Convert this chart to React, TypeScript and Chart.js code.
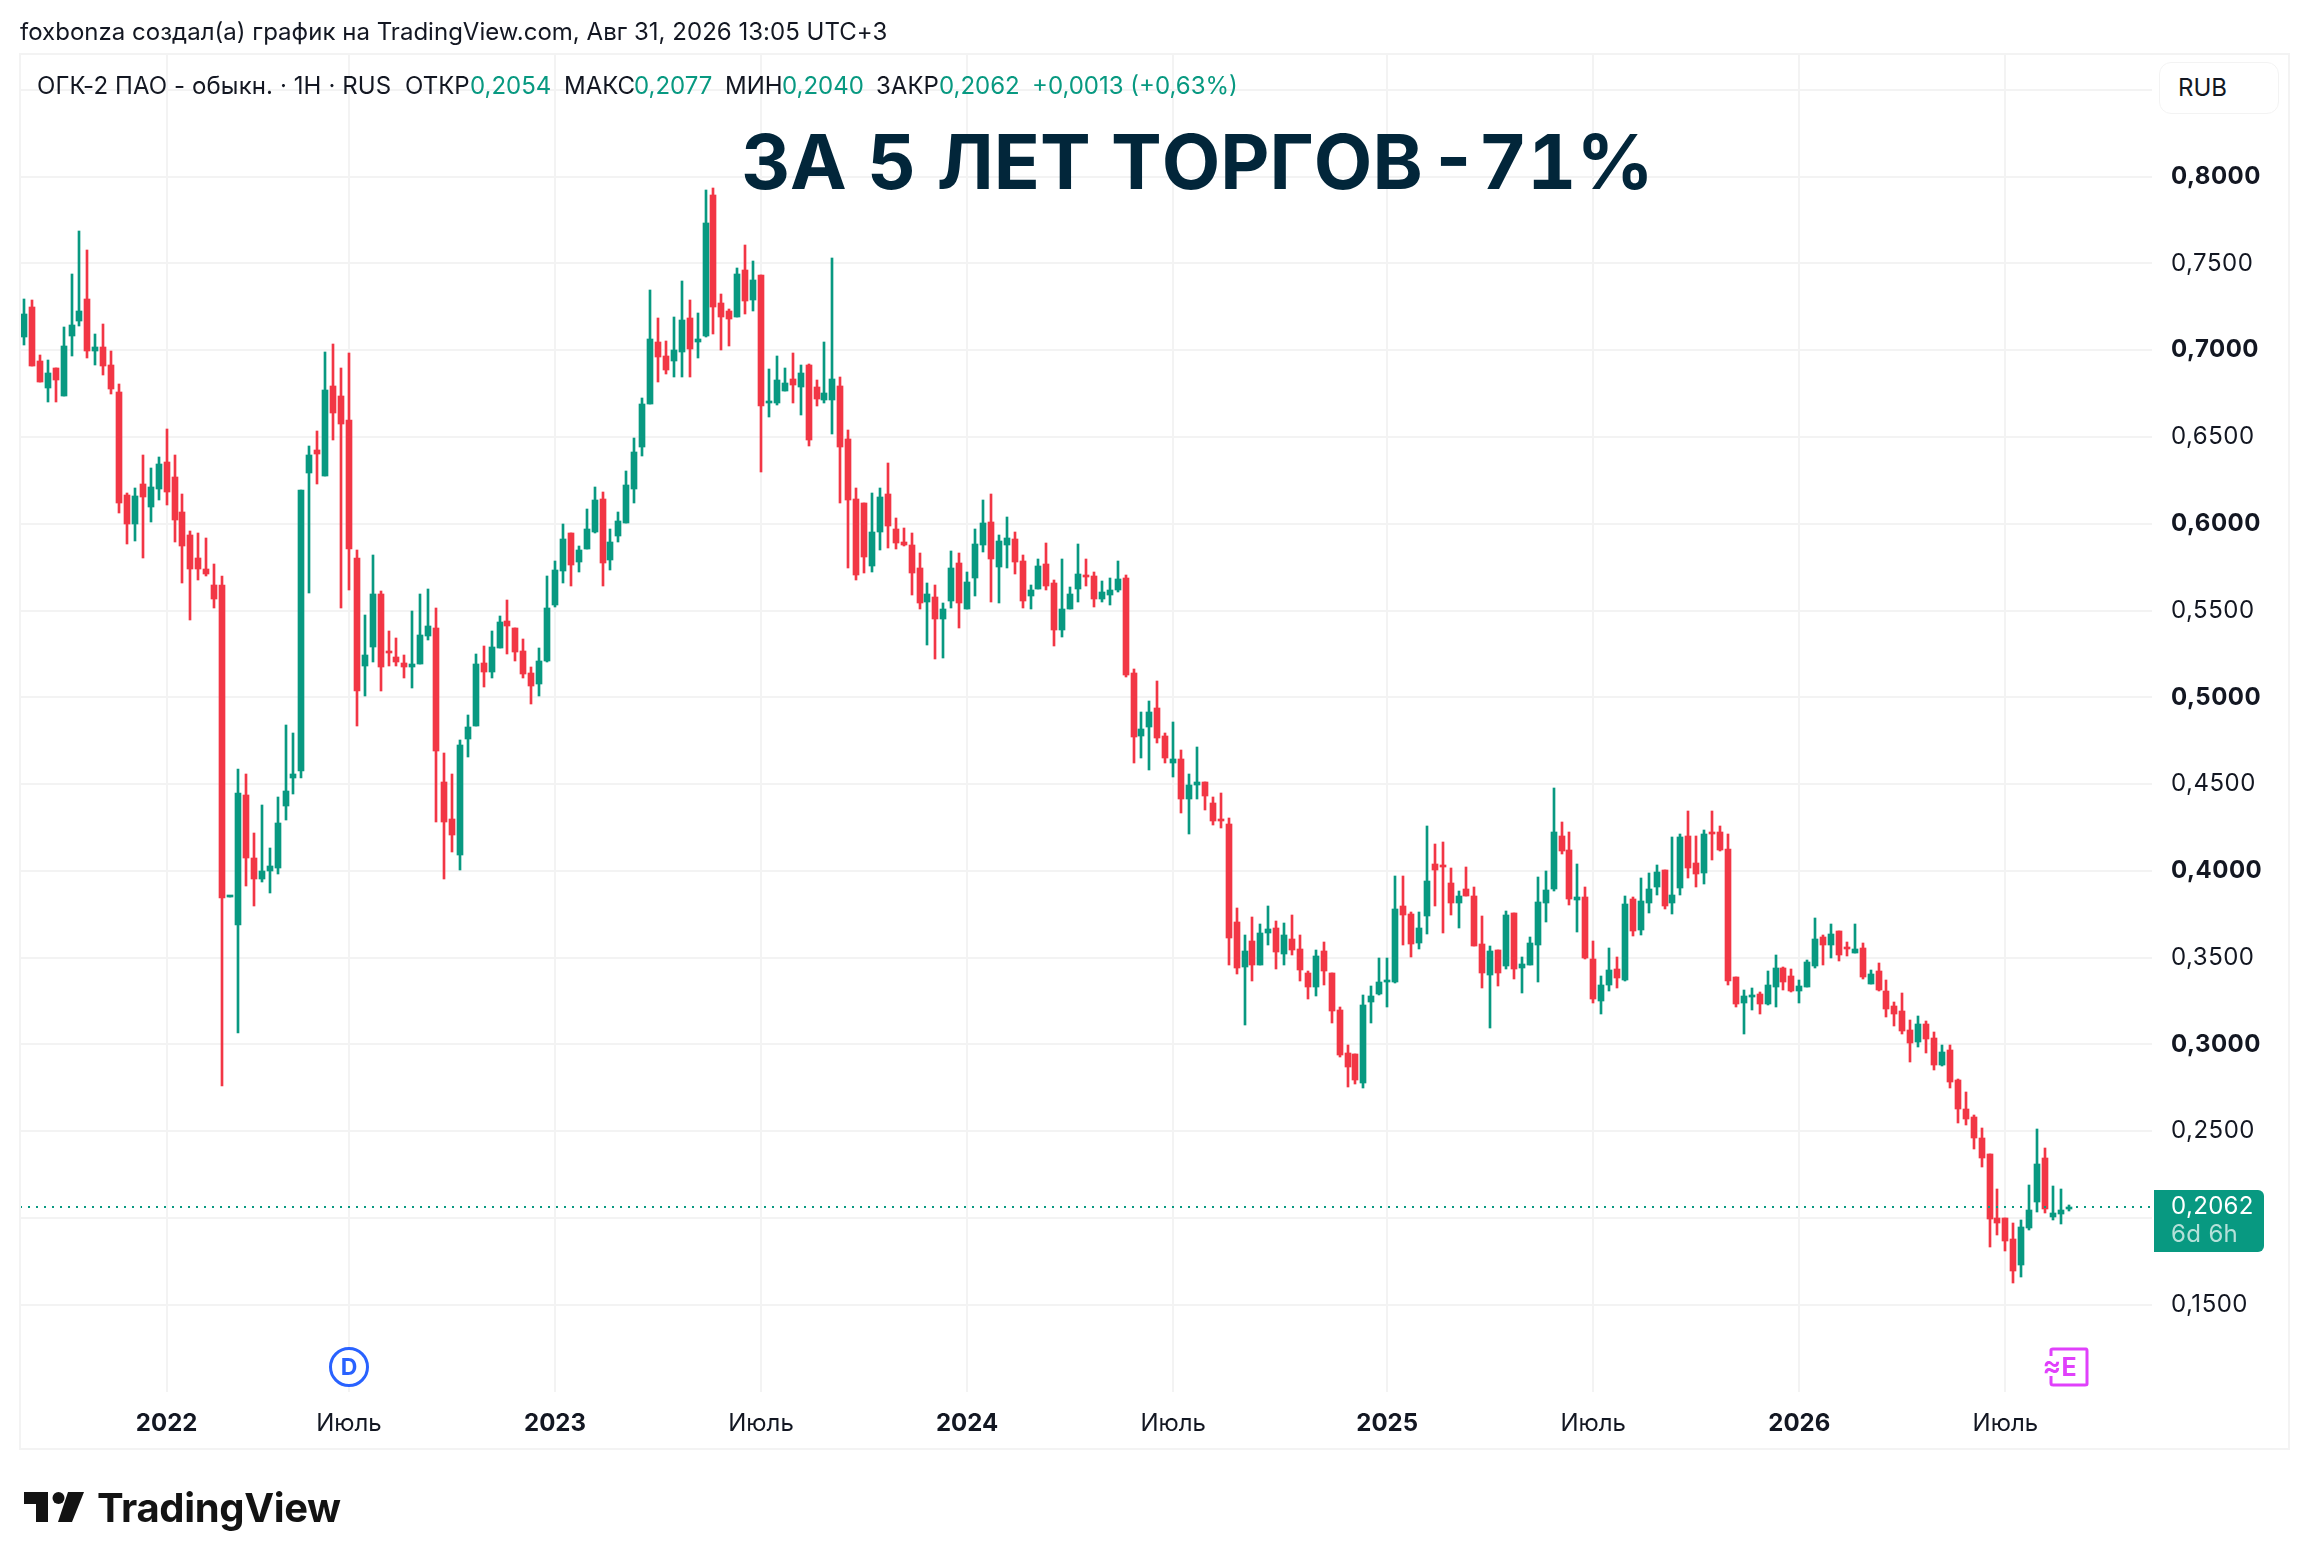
import React, { useEffect, useRef } from "react";
import { Chart, registerables } from "chart.js";

Chart.register(...registerables);

const opens = [
  0.7074,0.7251,0.6937,0.6785,0.6898,0.6736,0.7085,0.7166,0.7297,0.6993,
  0.7018,0.6916,0.6760,0.6168,0.5998,0.6228,0.6094,0.6203,0.6355,0.6270,
  0.6069,0.5935,0.5804,0.5741,0.5649,0.5649,0.3852,0.3688,0.4439,0.4076,
  0.3956,0.3998,0.4019,0.4372,0.4538,0.4573,0.6295,0.6425,0.6274,0.6796,
  0.6736,0.6598,0.5804,0.5183,0.5289,0.5596,0.5261,0.5233,0.5198,0.5173,
  0.5194,0.5356,0.5399,0.4513,0.4298,0.4093,0.4761,0.4834,0.5199,0.5145,
  0.5287,0.5439,0.5400,0.5267,0.5141,0.5077,0.5209,0.5534,0.5730,0.5948,
  0.5781,0.5857,0.5954,0.6143,0.5793,0.5931,0.6007,0.6203,0.6440,0.6693,
  0.7047,0.6967,0.6940,0.6991,0.7187,0.7045,0.7084,0.7895,0.7273,0.7226,
  0.7193,0.7463,0.7292,0.7434,0.6699,0.6697,0.6767,0.6835,0.6790,0.6915,
  0.6787,0.6715,0.6715,0.6794,0.6489,0.6143,0.6121,0.5758,0.5950,0.6172,
  0.5969,0.5896,0.5877,0.5745,0.5550,0.5578,0.5449,0.5557,0.5773,0.5510,
  0.5689,0.5879,0.6011,0.5750,0.5879,0.5912,0.5785,0.5585,0.5625,0.5769,
  0.5658,0.5390,0.5510,0.5625,0.5705,0.5698,0.5564,0.5592,0.5616,0.5686,
  0.5141,0.4779,0.4830,0.4939,0.4776,0.4623,0.4645,0.4416,0.4496,0.4513,
  0.4391,0.4294,0.4271,0.3706,0.3447,0.3596,0.3459,0.3643,0.3671,0.3523,
  0.3607,0.3549,0.3412,0.3332,0.3539,0.3412,0.3199,0.2951,0.2945,0.2780,
  0.3247,0.3291,0.3362,0.3362,0.3798,0.3754,0.3587,0.3742,0.4040,0.4034,
  0.3931,0.3812,0.3896,0.3856,0.3579,0.3402,0.3545,0.3454,0.3758,0.3443,
  0.3460,0.3575,0.3812,0.3898,0.4201,0.4121,0.3835,0.3850,0.3493,0.3253,
  0.3345,0.3435,0.3374,0.3838,0.3662,0.3812,0.3909,0.4006,0.3817,0.3904,
  0.4201,0.4046,0.3990,0.4224,0.4224,0.4127,0.3389,0.3241,0.3276,0.3291,
  0.3233,0.3333,0.3440,0.3394,0.3309,0.3332,0.3450,0.3619,0.3574,0.3653,
  0.3553,0.3528,0.3555,0.3350,0.3423,0.3307,0.3221,0.3192,0.3083,0.3013,
  0.3117,0.3037,0.2881,0.2967,0.2796,0.2627,0.2581,0.2460,0.2368,0.1999,
  0.1999,0.1878,0.1730,0.1942,0.2090,0.2345,0.2005,0.2024,0.2054,
];

const highs = [
  0.7297,0.7290,0.6972,0.6944,0.6898,0.7134,0.7438,0.7688,0.7579,0.7092,
  0.7152,0.6997,0.6806,0.6178,0.6207,0.6397,0.6323,0.6386,0.6545,0.6397,
  0.6171,0.5960,0.5945,0.5917,0.5769,0.5699,0.3857,0.4587,0.4559,0.4217,
  0.4379,0.4132,0.4425,0.4841,0.4795,0.6196,0.6450,0.6535,0.6990,0.7036,
  0.6898,0.6983,0.5850,0.5476,0.5822,0.5614,0.5381,0.5342,0.5243,0.5497,
  0.5596,0.5624,0.5515,0.4679,0.4559,0.4754,0.4898,0.5249,0.5295,0.5382,
  0.5468,0.5561,0.5400,0.5337,0.5174,0.5285,0.5699,0.5785,0.5999,0.5948,
  0.5872,0.6086,0.6211,0.6182,0.5970,0.6067,0.6304,0.6495,0.6726,0.7347,
  0.7187,0.7053,0.7191,0.7399,0.7290,0.7216,0.7924,0.7936,0.7325,0.7238,
  0.7475,0.7607,0.7514,0.7434,0.6892,0.6967,0.6899,0.6985,0.6915,0.6921,
  0.6829,0.7047,0.7532,0.6845,0.6541,0.6207,0.6121,0.6178,0.6207,0.6351,
  0.6032,0.5976,0.5948,0.5832,0.5658,0.5646,0.5543,0.5844,0.5832,0.5722,
  0.5969,0.6138,0.6171,0.5936,0.6039,0.5952,0.5821,0.5646,0.5797,0.5889,
  0.5677,0.5797,0.5635,0.5884,0.5797,0.5722,0.5670,0.5686,0.5785,0.5705,
  0.5162,0.4915,0.4979,0.5094,0.4795,0.4859,0.4696,0.4558,0.4713,0.4513,
  0.4426,0.4449,0.4303,0.3786,0.3631,0.3734,0.3694,0.3798,0.3711,0.3699,
  0.3746,0.3631,0.3424,0.3544,0.3591,0.3412,0.3216,0.2997,0.2945,0.3285,
  0.3337,0.3498,0.3498,0.3971,0.3971,0.3763,0.3763,0.4259,0.4155,0.4167,
  0.4017,0.3884,0.4023,0.3908,0.3740,0.3568,0.3545,0.3769,0.3758,0.3504,
  0.3619,0.3965,0.4000,0.4478,0.4282,0.4224,0.4040,0.3908,0.3596,0.3395,
  0.3556,0.3504,0.3856,0.3850,0.3959,0.3988,0.4034,0.4006,0.4196,0.4213,
  0.4345,0.4201,0.4236,0.4345,0.4259,0.4213,0.3389,0.3314,0.3326,0.3302,
  0.3424,0.3516,0.3446,0.3434,0.3371,0.3486,0.3728,0.3630,0.3693,0.3653,
  0.3590,0.3693,0.3584,0.3428,0.3469,0.3371,0.3244,0.3296,0.3140,0.3163,
  0.3135,0.3071,0.2996,0.2996,0.2800,0.2725,0.2593,0.2518,0.2368,0.2166,
  0.1999,0.1970,0.1988,0.2189,0.2512,0.2403,0.2184,0.2166,0.2077,
];

const lows = [
  0.7032,0.6909,0.6820,0.6700,0.6704,0.6736,0.6965,0.7138,0.6958,0.6916,
  0.6856,0.6750,0.6065,0.5882,0.5900,0.5801,0.6013,0.6140,0.6108,0.5893,
  0.5656,0.5444,0.5674,0.5702,0.5512,0.2763,0.3852,0.3063,0.3910,0.3800,
  0.3935,0.3871,0.3984,0.4291,0.4443,0.4538,0.5600,0.6228,0.6274,0.6482,
  0.5512,0.5621,0.4834,0.5007,0.5201,0.5039,0.5183,0.5183,0.5109,0.5053,
  0.5194,0.5328,0.4280,0.3956,0.4111,0.4007,0.4656,0.4834,0.5061,0.5114,
  0.5287,0.5252,0.5211,0.5114,0.4964,0.5009,0.5201,0.5518,0.5660,0.5643,
  0.5724,0.5857,0.5948,0.5643,0.5736,0.5896,0.6007,0.6117,0.6392,0.6693,
  0.6818,0.6866,0.6847,0.6847,0.6847,0.6958,0.7078,0.7094,0.7004,0.7026,
  0.7189,0.7211,0.7228,0.6300,0.6613,0.6685,0.6767,0.6699,0.6629,0.6450,
  0.6680,0.6699,0.6520,0.6117,0.5748,0.5678,0.5719,0.5724,0.5851,0.5863,
  0.5856,0.5872,0.5590,0.5510,0.5301,0.5221,0.5225,0.5517,0.5400,0.5510,
  0.5583,0.5835,0.5550,0.5541,0.5748,0.5708,0.5517,0.5510,0.5625,0.5618,
  0.5298,0.5350,0.5510,0.5550,0.5644,0.5522,0.5550,0.5534,0.5609,0.5120,
  0.4623,0.4652,0.4579,0.4739,0.4619,0.4543,0.4336,0.4214,0.4416,0.4348,
  0.4266,0.4249,0.3459,0.3407,0.3109,0.3363,0.3459,0.3574,0.3436,0.3459,
  0.3518,0.3363,0.3259,0.3280,0.3343,0.3126,0.2930,0.2757,0.2769,0.2751,
  0.3126,0.3285,0.3218,0.3356,0.3575,0.3506,0.3552,0.3639,0.3800,0.3644,
  0.3748,0.3673,0.3858,0.3569,0.3327,0.3097,0.3339,0.3437,0.3379,0.3299,
  0.3460,0.3362,0.3708,0.3886,0.4100,0.3806,0.3650,0.3495,0.3241,0.3178,
  0.3310,0.3327,0.3368,0.3627,0.3633,0.3760,0.3863,0.3783,0.3754,0.3863,
  0.3961,0.3909,0.3927,0.4065,0.4117,0.3345,0.3218,0.3062,0.3201,0.3178,
  0.3228,0.3218,0.3315,0.3302,0.3240,0.3332,0.3442,0.3459,0.3499,0.3482,
  0.3511,0.3528,0.3378,0.3350,0.3309,0.3159,0.3108,0.3062,0.2900,0.2987,
  0.2952,0.2854,0.2877,0.2750,0.2549,0.2537,0.2399,0.2295,0.1834,0.1903,
  0.1811,0.1627,0.1661,0.1932,0.2036,0.2030,0.1990,0.1967,0.2040,
];

const closes = [
  0.7208,0.6909,0.6820,0.6870,0.6831,0.7025,0.7145,0.7226,0.6993,0.7018,
  0.6912,0.6775,0.6122,0.5998,0.6161,0.6154,0.6214,0.6344,0.6182,0.6020,
  0.5871,0.5737,0.5737,0.5709,0.5564,0.3846,0.3857,0.4450,0.4072,0.3952,
  0.3998,0.4030,0.4277,0.4460,0.4559,0.6196,0.6397,0.6401,0.6771,0.6640,
  0.6577,0.5857,0.5035,0.5243,0.5596,0.5173,0.5254,0.5201,0.5176,0.5190,
  0.5360,0.5413,0.4693,0.4284,0.4206,0.4725,0.4829,0.5192,0.5145,0.5289,
  0.5433,0.5413,0.5262,0.5135,0.5067,0.5209,0.5516,0.5734,0.5913,0.5765,
  0.5849,0.5970,0.6137,0.5777,0.5894,0.6016,0.6224,0.6413,0.6691,0.7065,
  0.6962,0.6888,0.7002,0.7174,0.7010,0.7065,0.7734,0.7251,0.7189,0.7183,
  0.7440,0.7286,0.7405,0.6680,0.6707,0.6829,0.6812,0.6802,0.6870,0.6485,
  0.6722,0.6755,0.6835,0.6444,0.6139,0.5707,0.5810,0.5952,0.6154,0.5989,
  0.5891,0.5877,0.5719,0.5541,0.5595,0.5449,0.5508,0.5745,0.5541,0.5665,
  0.5884,0.6004,0.5795,0.5901,0.5917,0.5781,0.5557,0.5618,0.5757,0.5644,
  0.5390,0.5508,0.5595,0.5710,0.5696,0.5564,0.5607,0.5618,0.5682,0.5131,
  0.4774,0.4816,0.4915,0.4767,0.4652,0.4645,0.4416,0.4494,0.4513,0.4433,
  0.4289,0.4285,0.3614,0.3443,0.3539,0.3459,0.3643,0.3664,0.3534,0.3631,
  0.3546,0.3431,0.3332,0.3509,0.3425,0.3195,0.2941,0.2872,0.2797,0.3228,
  0.3279,0.3360,0.3372,0.3781,0.3748,0.3581,0.3671,0.3942,0.4007,0.4025,
  0.3812,0.3856,0.3858,0.3569,0.3414,0.3539,0.3414,0.3746,0.3437,0.3464,
  0.3585,0.3821,0.3890,0.4224,0.4117,0.3840,0.3850,0.3500,0.3264,0.3343,
  0.3429,0.3385,0.3810,0.3656,0.3827,0.3896,0.3994,0.3800,0.3861,0.4196,
  0.4019,0.3984,0.4213,0.4215,0.4123,0.3368,0.3230,0.3279,0.3285,0.3235,
  0.3343,0.3441,0.3361,0.3307,0.3336,0.3474,0.3607,0.3574,0.3636,0.3517,
  0.3547,0.3547,0.3388,0.3405,0.3313,0.3206,0.3177,0.3077,0.3010,0.3117,
  0.3033,0.2881,0.2956,0.2785,0.2629,0.2572,0.2462,0.2347,0.1995,0.1972,
  0.1869,0.1696,0.1947,0.2045,0.2310,0.2049,0.2028,0.2045,0.2062,
];

const blankSlots = 10;
const timeTickSlots = [18, 41, 67, 93, 119, 145, 172, 198, 224, 250];
const timeTickLabels = ["2022", "Июль", "2023", "Июль", "2024", "Июль", "2025", "Июль", "2026", "Июль"];
const boldTimeLabels = ["2022", "2023", "2024", "2025", "2026"];
const priceTicks = [0.85, 0.8, 0.75, 0.7, 0.65, 0.6, 0.55, 0.5, 0.45, 0.4, 0.35, 0.3, 0.25, 0.2, 0.15];
const hiddenPriceLabels = [0.85, 0.2];
const boldPriceLabels = [0.8, 0.7, 0.6, 0.5, 0.4, 0.3];

const categories = [...opens.map((_, i) => `#${i + 1}`), ...Array.from({ length: blankSlots }, (_, i) => `+${i + 1}`)];
const lastClose = closes[closes.length - 1];

const UP = "#089981";
const DOWN = "#F23645";
const GRID = "#F3F3F3";
const INK = "#131722";
const FONT = "Inter, 'Noto Sans', sans-serif";

const candleColors = opens.map((o, i) => (closes[i] >= o ? UP : DOWN));
const fmt = (v: number) => v.toFixed(4).replace(".", ",");

const snapBars = {
  id: "snapBars",
  afterDatasetsUpdate(chart: any) {
    chart.data.datasets.forEach((_: any, d: number) => {
      chart.getDatasetMeta(d).data.forEach((bar: any) => {
        bar.x = Math.round(bar.x);
        bar.y = Math.round(bar.y);
        bar.base = Math.round(bar.base);
      });
    });
  },
};

// The price labels sit on a layer drawn after the candles, so only they get the extra tracking.
const priceLabelSpacing = {
  id: "priceLabelSpacing",
  afterDatasetsDraw(chart: any) {
    chart.ctx.letterSpacing = "0.5px";
  },
  afterDraw(chart: any) {
    chart.ctx.letterSpacing = "0px";
  },
};

const lastPriceLine = {
  id: "lastPriceLine",
  afterDatasetsDraw(chart: any) {
    const { ctx, chartArea, scales } = chart;
    const y = Math.round(scales.y.getPixelForValue(lastClose));
    ctx.save();
    ctx.strokeStyle = UP;
    ctx.lineWidth = 2;
    ctx.setLineDash([2, 6]);
    ctx.beginPath();
    ctx.moveTo(chartArea.left, y);
    ctx.lineTo(chartArea.right, y);
    ctx.stroke();
    ctx.restore();
  },
};

function abs(left: number, top: number, extra: React.CSSProperties = {}): React.CSSProperties {
  return { position: "absolute", left, top, whiteSpace: "nowrap", ...extra };
}

const legendParts: [string, number, string, number][] = [
  ["ОГК-2 ПАО - обыкн. · 1Н · RUS", 37, INK, 0.1],
  ["ОТКР", 405, INK, 0],
  ["0,2054", 470, UP, 0],
  ["МАКС", 564, INK, 0],
  ["0,2077", 634, UP, 0],
  ["МИН", 725, INK, 0],
  ["0,2040", 782, UP, 0],
  ["ЗАКР", 876, INK, 0],
  ["0,2062", 939, UP, 0],
  ["+0,0013 (+0,63%)", 1032, UP, 0],
];

export default function App() {
  const ref = useRef<HTMLCanvasElement>(null);

  useEffect(() => {
    const chart = new Chart(ref.current as HTMLCanvasElement, {
      type: "bar",
      data: {
        labels: categories,
        datasets: [
          {
            label: "Тени",
            data: highs.map((h, i) => [lows[i], h]) as any,
            backgroundColor: candleColors,
            barThickness: 2,
            grouped: false,
            order: 2,
          } as any,
          {
            label: "Тела",
            data: opens.map((o, i) => [o, closes[i]]) as any,
            backgroundColor: candleColors,
            barThickness: 6,
            minBarLength: 2,
            grouped: false,
            order: 1,
          } as any,
        ],
      },
      options: {
        responsive: false,
        animation: false,
        devicePixelRatio: 1,
        layout: { padding: { left: 20, top: 53, right: 0, bottom: 0 } },
        plugins: { legend: { display: false }, tooltip: { enabled: false } },
        scales: {
          x: {
            type: "category",
            offset: true,
            border: { display: false },
            grid: { offset: false, color: GRID, lineWidth: 2, drawTicks: false },
            afterBuildTicks: (scale: any) => {
              scale.ticks = timeTickSlots.map((value) => ({ value }));
            },
            afterFit: (scale: any) => {
              scale.height = 176;
            },
            ticks: {
              autoSkip: false,
              maxRotation: 0,
              padding: 17,
              color: INK,
              callback: (_v: any, i: number) => timeTickLabels[i],
              font: (ctx: any) => ({
                family: FONT,
                size: 24,
                weight: boldTimeLabels.includes(timeTickLabels[ctx.index]) ? 700 : 400,
              }),
            },
          },
          y: {
            type: "linear",
            position: "right",
            min: 0.0997,
            max: 0.8713,
            border: { display: false },
            grid: { color: GRID, lineWidth: 2, drawTicks: false },
            afterBuildTicks: (scale: any) => {
              scale.ticks = priceTicks.map((value) => ({ value }));
            },
            afterFit: (scale: any) => {
              scale.width = 156;
            },
            ticks: {
              z: 1,
              padding: 19,
              color: INK,
              callback: (v: any) => (hiddenPriceLabels.includes(v) ? "" : fmt(v)),
              font: (ctx: any) => ({
                family: FONT,
                size: 24,
                weight: boldPriceLabels.includes(ctx.tick?.value) ? 700 : 400,
              }),
            },
          },
        },
      },
      plugins: [snapBars, lastPriceLine, priceLabelSpacing],
    } as any);
    return () => chart.destroy();
  }, []);

  return (
    <div style={{ position: "absolute", left: 0, top: 0, width: 2308, height: 1568, background: "#fff", overflow: "hidden", fontFamily: FONT, color: INK }}>
      <canvas ref={ref} width={2308} height={1568} style={{ position: "absolute", left: 0, top: 0, display: "block" }} />
      <div style={{ position: "absolute", left: 19, top: 53, width: 2267, height: 1393, border: `2px solid ${GRID}`, pointerEvents: "none" }} />

      <div style={abs(20, 17, { fontSize: 24, lineHeight: "30px", letterSpacing: 0.02 })}>
        foxbonza создал(а) график на TradingView.com, Авг 31, 2026 13:05 UTC+3
      </div>

      {legendParts.map(([text, left, color, spacing], i) => (
        <div key={i} style={abs(left, 71, { fontSize: 24, lineHeight: "30px", color, letterSpacing: spacing })}>{text}</div>
      ))}

      <div style={abs(741, 114, { fontSize: 76, lineHeight: "94px", fontWeight: 700, color: "#02263A", fontKerning: "none", fontVariantNumeric: "tabular-nums" })}>
        ЗА 5 ЛЕТ ТОРГОВ <span style={{ marginLeft: -14 }}>-71%</span>
      </div>

      <div style={abs(2159, 62, { width: 120, height: 52, boxSizing: "border-box", border: `1px solid ${GRID}`, borderRadius: 12, background: "#fff", fontSize: 24, lineHeight: "50px", paddingLeft: 18 })}>RUB</div>

      <div style={abs(2154, 1190, { width: 110, height: 62, background: UP, borderRadius: "0 6px 6px 0", color: "#fff", fontSize: 24, lineHeight: "28px", paddingLeft: 17, boxSizing: "border-box", paddingTop: 2, letterSpacing: 0.35 })}>
        <div>{fmt(lastClose)}</div>
        <div style={{ color: "rgba(255,255,255,0.7)" }}>6d 6h</div>
      </div>

      <div style={abs(329, 1347, { width: 40, height: 40, boxSizing: "border-box", border: "3px solid #2962FF", borderRadius: "50%", background: "#fff", color: "#2962FF", fontSize: 23, fontWeight: 700, lineHeight: "34px", textAlign: "center" })}>D</div>

      <svg style={{ position: "absolute", left: 2044, top: 1346 }} width={48} height={42} viewBox="0 0 48 42">
        <path d="M7 10 V4 Q7 3 9 3 H42 Q43 3 43 5 V38 Q43 39 41 39 H9 Q7 39 7 37 V30" fill="none" stroke="#E040FB" strokeWidth="3" />
        <text x="25" y="30" textAnchor="middle" fontSize="25" fontWeight="700" fill="#E040FB" fontFamily={FONT}>E</text>
        <text x="8" y="29" textAnchor="middle" fontSize="28" fontWeight="600" fill="#E040FB" fontFamily={FONT}>≈</text>
      </svg>

      <svg style={{ position: "absolute", left: 24, top: 1492 }} width={60} height={30} viewBox="0 0 60 30">
        <path d="M0 0 H24 V30 H12 V12 H0 Z" fill="#131313" />
        <circle cx="34.5" cy="6" r="6" fill="#131313" />
        <path d="M44 0 H60 L48 30 H34 Z" fill="#131313" />
      </svg>
      <div style={abs(97, 1484, { fontSize: 40, lineHeight: "48px", fontWeight: 700, color: "#131313", letterSpacing: -0.35 })}>TradingView</div>
    </div>
  );
}
